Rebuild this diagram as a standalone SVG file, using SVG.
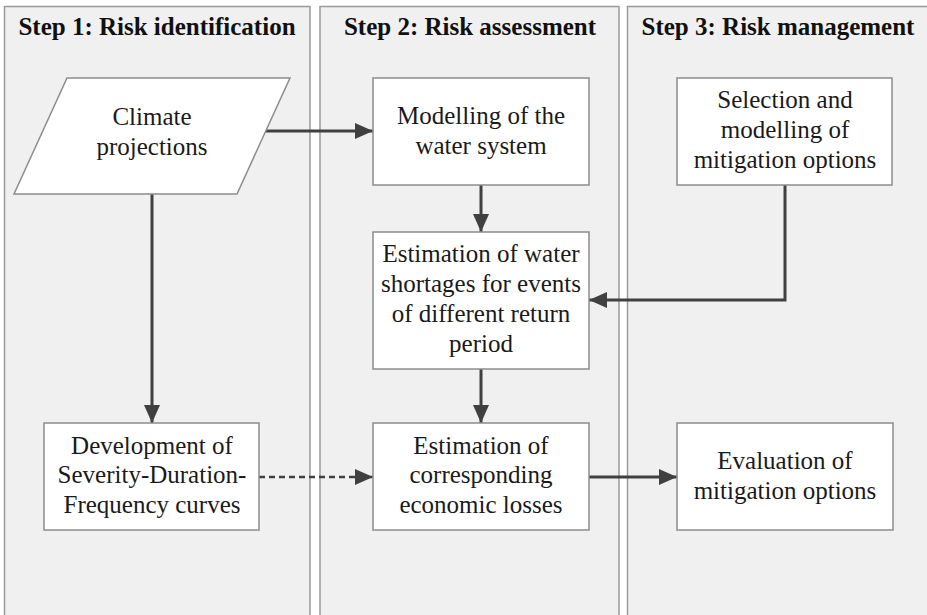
<svg xmlns="http://www.w3.org/2000/svg" width="927" height="615" viewBox="0 0 927 615">
<style>
.lane{fill:#f0f0f0;stroke:#9a9a9a;stroke-width:1.5}
.box{fill:#ffffff;stroke:#8c8c8c;stroke-width:1.5}
.title{font-family:"Liberation Serif","Times New Roman",serif;font-size:25px;font-weight:bold;fill:#111;text-anchor:middle}
.lbl{font-family:"Liberation Serif","Times New Roman",serif;font-size:25px;fill:#1a1a1a;text-anchor:middle}
.arr{fill:none;stroke:#404040;stroke-width:3;marker-end:url(#ah)}
.dash{fill:none;stroke:#404040;stroke-width:2.5;stroke-dasharray:6,4;marker-end:url(#ah)}
</style>
<defs>
<marker id="ah" markerUnits="userSpaceOnUse" markerWidth="18" markerHeight="16" refX="18" refY="8" orient="auto">
<path d="M0,0 L18,8 L0,16 z" fill="#404040"/>
</marker>
</defs>
<rect width="927" height="615" fill="#ffffff"/>
<g id="lanes">
<g id="lane1"><rect class="lane" x="4.5" y="6.5" width="305.5" height="620"/><text class="title" x="157" y="35">Step 1: Risk identification</text></g>
<g id="lane2"><rect class="lane" x="320" y="6.5" width="299" height="620"/><text class="title" x="470" y="35">Step 2: Risk assessment</text></g>
<g id="lane3"><rect class="lane" x="627.5" y="6.5" width="302" height="620"/><text class="title" x="778" y="35">Step 3: Risk management</text></g>
</g>
<g id="connectors">
<line class="arr" x1="263" y1="131" x2="373" y2="131"/>
<line class="arr" x1="481" y1="185" x2="481" y2="232"/>
<polyline class="arr" points="785,185 785,300 589,300"/>
<line class="arr" x1="481" y1="369" x2="481" y2="423"/>
<line class="arr" x1="152" y1="194" x2="152" y2="423"/>
<line class="dash" x1="259" y1="477" x2="373" y2="477"/>
<line class="arr" x1="589" y1="477" x2="677" y2="477"/>
</g>
<g id="climate">
<polygon class="box" points="67,78 290,78 237,194 14,194"/>
<text class="lbl" x="152" y="125">Climate</text>
<text class="lbl" x="152" y="155">projections</text>
</g>
<g id="modelling">
<rect class="box" x="373" y="78" width="216" height="107"/>
<text class="lbl" x="481" y="124">Modelling of the</text>
<text class="lbl" x="481" y="154">water system</text>
</g>
<g id="selection">
<rect class="box" x="677" y="78" width="215" height="107"/>
<text class="lbl" x="785" y="108">Selection and</text>
<text class="lbl" x="785" y="138">modelling of</text>
<text class="lbl" x="785" y="168">mitigation options</text>
</g>
<g id="shortages">
<rect class="box" x="373" y="232" width="216" height="137"/>
<text class="lbl" x="481" y="262">Estimation of water</text>
<text class="lbl" x="481" y="292">shortages for events</text>
<text class="lbl" x="481" y="322">of different return</text>
<text class="lbl" x="481" y="352">period</text>
</g>
<g id="sdf">
<rect class="box" x="44" y="423" width="215" height="107"/>
<text class="lbl" x="152" y="454">Development of</text>
<text class="lbl" x="152" y="483">Severity-Duration-</text>
<text class="lbl" x="152" y="513">Frequency curves</text>
</g>
<g id="losses">
<rect class="box" x="373" y="423" width="216" height="107"/>
<text class="lbl" x="481" y="454">Estimation of</text>
<text class="lbl" x="481" y="483">corresponding</text>
<text class="lbl" x="481" y="513">economic losses</text>
</g>
<g id="evaluation">
<rect class="box" x="677" y="423" width="216" height="107"/>
<text class="lbl" x="785" y="469">Evaluation of</text>
<text class="lbl" x="785" y="499">mitigation options</text>
</g>
</svg>
